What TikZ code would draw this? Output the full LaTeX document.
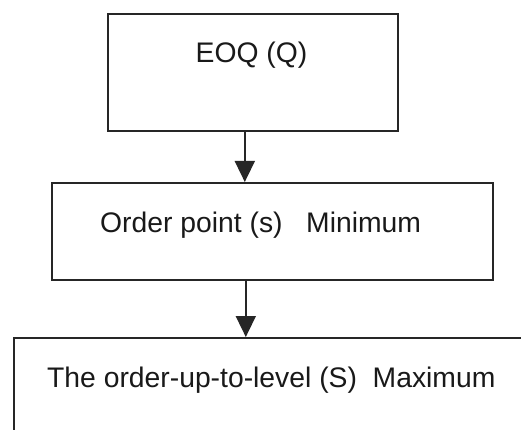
\documentclass[tikz,border=0pt]{standalone}
\usepackage{fontspec}
\setmainfont{Liberation Sans}
\usetikzlibrary{arrows.meta}
\begin{document}
\begin{tikzpicture}[x=1pt,y=-1pt,
  box/.style={draw=black!85, line width=1.6pt, inner sep=0pt, anchor=north west},
  lbl/.style={inner sep=0pt, font=\fontsize{28.3}{30}\selectfont, text=black!90},
  arr/.style={draw=black!85, line width=1.6pt, -{Triangle[width=20pt,length=21pt]}}]
\useasboundingbox (0,0) rectangle (521,430);
\fill[white] (0,0) rectangle (521,430);
\begin{scope}
\clip (0,0) rectangle (521,430);
\node[box, minimum width=290pt, minimum height=117pt] (b1) at (107,13) {};
\node[box, minimum width=441pt, minimum height=97pt] (b2) at (51,182) {};
\node[box, minimum width=560pt, minimum height=160pt] (b3) at (13,337) {};
\node[lbl, anchor=base] (t1) at (251.5,63) {EOQ (Q)};
\node[lbl, anchor=base west] (t2) at (100,232) {Order point (s)\ \ \ Minimum};
\node[lbl, anchor=base west] (t3) at (47,387) {The order-up-to-level (S)\ \ Maximum};
\draw[arr] ([xshift=-8pt]b1.south) -- ([xshift=-27.5pt]b2.north);
\draw[arr] ([xshift=-26.5pt]b2.south) -- ([xshift=-26.5pt]b2.south |- b3.north);
\end{scope}
\end{tikzpicture}
\end{document}
